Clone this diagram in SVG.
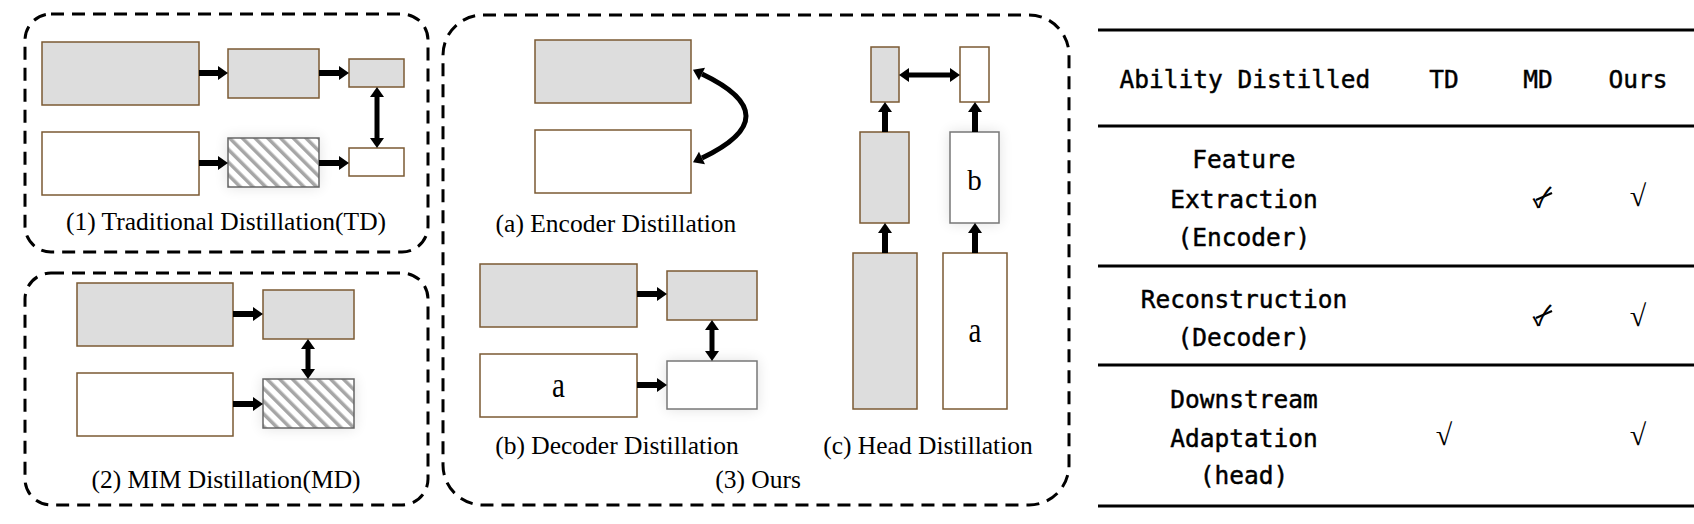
<svg xmlns="http://www.w3.org/2000/svg" width="1694" height="524" viewBox="0 0 1694 524">
<style>
.frame{fill:none;stroke:#000;stroke-width:3;stroke-dasharray:13 8}
.g{fill:#dddddd;stroke:#7b5a33;stroke-width:1.5}
.w{fill:#fff;stroke:#7b5a33;stroke-width:1.5}
.wg{fill:#fff;stroke:#777;stroke-width:1.5}
.h{fill:url(#hatch);stroke:#666;stroke-width:1.5}
.ar{fill:none;stroke:#000;stroke-width:6;marker-end:url(#ah)}
.dar{fill:none;stroke:#000;stroke-width:5;marker-end:url(#ah);marker-start:url(#ah)}
.cap{font-family:"Liberation Serif","Times New Roman",serif;font-size:25.5px;fill:#000;text-anchor:middle}
.let{font-family:"Liberation Serif","Times New Roman",serif;font-size:29px;fill:#000;text-anchor:middle}
.tb{font-family:"DejaVu Sans Mono","Liberation Mono",monospace;font-size:24.5px;fill:#000;stroke:#000;stroke-width:0.45;text-anchor:middle}
.ck{font-family:"Liberation Serif","DejaVu Serif",serif;font-size:30px;fill:#000;text-anchor:middle}
.xk{font-family:"Noto Sans CJK JP","DejaVu Sans",sans-serif;font-size:28px;fill:#000;text-anchor:middle}
.xl{stroke:#000;stroke-width:2.2}
.rule{stroke:#000;stroke-width:3}
</style>
<defs>
<pattern id="hatch" patternUnits="userSpaceOnUse" width="9" height="9" patternTransform="rotate(-45)">
<rect width="9" height="9" fill="#fff"/>
<rect width="3.5" height="9" fill="#a6a6a6"/>
</pattern>
<marker id="ah" markerUnits="userSpaceOnUse" markerWidth="10" markerHeight="15" refX="0" refY="7.5" orient="auto-start-reverse" overflow="visible">
<path d="M0,0.5 L10,7.5 L0,14.5 z" fill="#000"/>
</marker>
<filter id="glow" x="-30%" y="-40%" width="160%" height="180%">
<feGaussianBlur in="SourceAlpha" stdDeviation="7"/>
<feComponentTransfer><feFuncA type="linear" slope="0.12"/></feComponentTransfer>
<feMerge><feMergeNode/><feMergeNode in="SourceGraphic"/></feMerge>
</filter>
</defs>
<rect width="1694" height="524" fill="#fff"/>

<!-- frames -->
<g id="frames">
<rect class="frame" x="25" y="14" width="403" height="238" rx="26"/>
<rect class="frame" x="25" y="273" width="403" height="232" rx="26"/>
<rect class="frame" x="443" y="15" width="626" height="490" rx="40"/>
</g>

<!-- (1) Traditional Distillation -->
<g id="td-teacher-encoder"><rect class="g" x="42" y="42" width="157" height="63"/></g>
<g id="td-teacher-decoder"><rect class="g" x="228" y="49" width="91" height="49"/></g>
<g id="td-teacher-head"><rect class="g" x="349" y="59" width="55" height="28"/></g>
<g id="td-student-encoder"><rect class="w" x="42" y="132" width="157" height="63"/></g>
<g id="td-student-decoder"><rect class="h" x="228" y="138" width="91" height="49" filter="url(#glow)"/></g>
<g id="td-student-head"><rect class="w" x="349" y="148" width="55" height="28"/></g>
<text class="cap" x="226" y="230">(1) Traditional Distillation(TD)</text>

<!-- (2) MIM Distillation -->
<g id="md-teacher-encoder"><rect class="g" x="77" y="283" width="156" height="63"/></g>
<g id="md-teacher-decoder"><rect class="g" x="263" y="290" width="91" height="49"/></g>
<g id="md-student-encoder"><rect class="w" x="77" y="373" width="156" height="63"/></g>
<g id="md-student-decoder"><rect class="h" x="263" y="379" width="91" height="49" filter="url(#glow)"/></g>
<text class="cap" x="226" y="488">(2) MIM Distillation(MD)</text>

<!-- (a) Encoder Distillation -->
<g id="enc-teacher"><rect class="g" x="535" y="40" width="156" height="63"/></g>
<g id="enc-student"><rect class="w" x="535" y="130" width="156" height="63"/></g>
<text class="cap" x="616" y="232">(a) Encoder Distillation</text>

<!-- (b) Decoder Distillation -->
<g id="dec-teacher-encoder"><rect class="g" x="480" y="264" width="157" height="63"/></g>
<g id="dec-teacher-decoder"><rect class="g" x="667" y="271" width="90" height="49"/></g>
<g id="dec-student-encoder"><rect class="w" x="480" y="354" width="157" height="63"/><text class="let" x="558.5" y="397" transform="translate(0,-79) scale(1,1.2)">a</text></g>
<g id="dec-student-decoder"><rect class="wg" x="667" y="361" width="90" height="48" filter="url(#glow)"/></g>
<text class="cap" x="617" y="454">(b) Decoder Distillation</text>

<!-- (c) Head Distillation -->
<g id="head-teacher-head"><rect class="g" x="871" y="47" width="28" height="55"/></g>
<g id="head-student-head"><rect class="w" x="960" y="47" width="29" height="55"/></g>
<g id="head-teacher-decoder"><rect class="g" x="860" y="132" width="49" height="91"/></g>
<g id="head-student-decoder"><rect class="wg" x="950" y="132" width="49" height="91" filter="url(#glow)"/><text class="let" x="974.5" y="190">b</text></g>
<g id="head-teacher-encoder"><rect class="g" x="853" y="253" width="64" height="156"/></g>
<g id="head-student-encoder"><rect class="w" x="943" y="253" width="64" height="156"/><text class="let" x="975" y="342" transform="translate(0,-68.4) scale(1,1.2)">a</text></g>
<text class="cap" x="928" y="454">(c) Head Distillation</text>

<text class="cap" x="758" y="488">(3) Ours</text>

<!-- connectors -->
<g id="connectors">
<path class="ar" d="M199,73 H218"/>
<path class="ar" d="M319,73 H339"/>
<path class="ar" d="M199,163 H218"/>
<path class="ar" d="M319,163 H339"/>
<path class="dar" d="M377,97 V138"/>
<path class="ar" d="M233,314 H253"/>
<path class="ar" d="M233,404 H253"/>
<path class="dar" d="M308,349 V369"/>
<path class="dar" d="M702,74 Q790,116 702,158"/>
<path class="ar" d="M637,294 H657"/>
<path class="ar" d="M637,385 H657"/>
<path class="dar" d="M712,330 V351"/>
<path class="ar" d="M885,132 V112"/>
<path class="ar" d="M975,132 V112"/>
<path class="ar" d="M885,253 V233"/>
<path class="ar" d="M975,253 V233"/>
<path class="dar" d="M909,75 H950"/>
</g>

<!-- table -->
<g id="table">
<line class="rule" x1="1098" y1="30" x2="1694" y2="30"/>
<line class="rule" x1="1098" y1="126" x2="1694" y2="126"/>
<line class="rule" x1="1098" y1="266" x2="1694" y2="266"/>
<line class="rule" x1="1098" y1="365" x2="1694" y2="365"/>
<line class="rule" x1="1098" y1="506" x2="1694" y2="506"/>
<text class="tb" x="1245" y="88">Ability Distilled</text>
<text class="tb" x="1444" y="88">TD</text>
<text class="tb" x="1538" y="88">MD</text>
<text class="tb" x="1638" y="88">Ours</text>
<text class="tb" x="1244" y="168">Feature</text>
<text class="tb" x="1244" y="208">Extraction</text>
<text class="tb" x="1244" y="246">(Encoder)</text>
<text class="tb" x="1244" y="308">Reconstruction</text>
<text class="tb" x="1244" y="346">(Decoder)</text>
<text class="tb" x="1244" y="408">Downstream</text>
<text class="tb" x="1244" y="447">Adaptation</text>
<text class="tb" x="1244" y="484">(head)</text>
<text class="xk" x="1542" y="208">✓</text>
<line class="xl" x1="1536" y1="200" x2="1552" y2="193"/>
<text class="ck" x="1638" y="206">√</text>
<text class="xk" x="1542" y="326">✓</text>
<line class="xl" x1="1536" y1="318" x2="1552" y2="311"/>
<text class="ck" x="1638" y="326">√</text>
<text class="ck" x="1444" y="445">√</text>
<text class="ck" x="1638" y="445">√</text>
</g>
</svg>
